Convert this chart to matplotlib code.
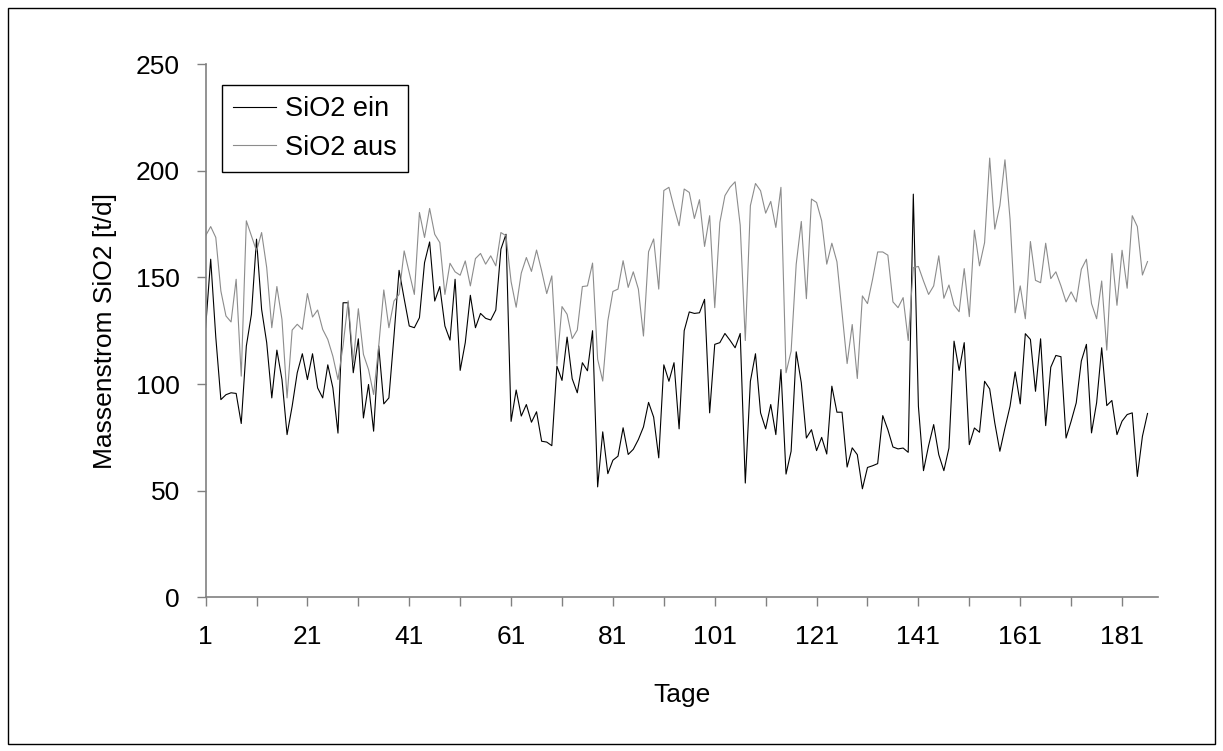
import numpy as np
import matplotlib.pyplot as plt
from matplotlib.patches import Rectangle

plt.rcParams['font.family'] = ['Liberation Sans', 'DejaVu Sans']

# Tageswerte Massenstrom SiO2 [t/d]
sio2_ein = [
    126.4, 158.5, 122.0, 92.7, 95.0, 95.9, 95.6, 81.5, 117.8, 132.7,
    167.9, 135.0, 119.4, 93.5, 115.9, 102.1, 76.3, 89.6, 105.3, 114.2,
    102.1, 114.2, 98.2, 93.5, 109.0, 98.2, 77.0, 138.1, 138.1, 105.3,
    121.2, 84.1, 99.8, 77.9, 117.8, 90.7, 93.5, 122.5, 153.3, 140.0,
    127.2, 126.4, 131.1, 156.9, 166.6, 138.9, 145.7, 127.2, 120.6, 149.1,
    106.4, 119.4, 141.6, 126.4, 133.1, 130.8, 130.0, 134.7, 163.2, 170.2,
    82.5, 97.2, 85.0, 90.4, 82.1, 87.0, 73.2, 72.8, 71.1, 108.4,
    101.7, 122.0, 102.5, 95.9, 110.0, 106.2, 125.0, 51.8, 77.6, 58.0,
    64.3, 66.2, 79.5, 67.0, 69.4, 74.0, 79.9, 91.4, 84.5, 65.4,
    109.0, 101.3, 110.0, 79.0, 125.0, 133.8, 133.1, 133.4, 139.7, 86.5,
    118.6, 119.4, 123.7, 120.5, 117.0, 123.7, 53.6, 101.3, 114.2, 86.5,
    79.0, 90.4, 76.3, 106.8, 57.8, 68.5, 115.1, 100.6, 74.7, 78.6,
    68.8, 75.0, 67.2, 99.0, 86.8, 86.8, 61.1, 70.1, 66.9, 50.9,
    60.9, 61.7, 62.7, 85.2, 78.6, 70.5, 69.6, 70.0, 68.0, 189.0,
    89.6, 59.4, 71.1, 81.0, 66.9, 59.4, 70.0, 120.1, 106.4, 119.4,
    71.6, 79.4, 77.4, 101.3, 97.7, 81.8, 68.5, 79.4, 89.6, 105.7,
    90.7, 123.6, 120.9, 96.6, 121.2, 80.5, 107.9, 113.4, 112.8, 74.7,
    82.6, 91.2, 110.8, 118.6, 77.1, 91.2, 117.0, 89.9, 92.3, 76.3,
    82.6, 85.7, 86.5, 56.7, 75.5, 86.2,
]
sio2_aus = [
    169.5, 173.8, 168.7, 143.6, 131.9, 129.1, 149.1, 103.7, 176.5, 169.5,
    162.4, 171.0, 154.6, 126.4, 145.7, 130.3, 93.5, 125.3, 128.0, 125.6,
    142.4, 131.4, 134.7, 125.6, 120.9, 113.0, 102.1, 118.0, 139.0, 110.0,
    135.3, 113.9, 106.8, 95.1, 117.8, 144.1, 126.4, 138.9, 142.0, 162.4,
    152.2, 142.0, 180.4, 168.7, 182.3, 170.2, 166.3, 142.0, 156.6, 152.6,
    151.0, 157.7, 146.0, 158.8, 161.2, 156.2, 160.1, 155.4, 171.0, 169.5,
    148.0, 136.0, 152.0, 159.3, 152.8, 162.8, 153.1, 142.4, 150.7, 109.2,
    136.3, 132.7, 121.3, 125.3, 145.7, 146.0, 156.7, 111.6, 101.4, 129.6,
    143.4, 144.5, 157.8, 145.3, 152.6, 144.5, 122.5, 162.0, 168.0, 144.5,
    190.7, 192.2, 182.8, 174.2, 191.4, 189.8, 177.6, 186.4, 164.5, 178.9,
    135.8, 175.7, 188.3, 192.2, 194.8, 174.5, 120.4, 183.6, 194.0, 190.6,
    180.1, 185.6, 173.4, 192.2, 105.3, 115.4, 156.2, 176.2, 140.0, 186.7,
    185.1, 176.5, 156.2, 166.0, 157.3, 133.4, 109.6, 127.9, 102.6, 141.3,
    137.7, 149.1, 161.9, 161.9, 160.4, 138.5, 135.8, 140.5, 120.4, 154.6,
    155.1, 148.3, 142.0, 146.0, 160.1, 140.2, 146.4, 137.0, 133.9, 154.1,
    131.6, 172.1, 155.4, 166.3, 205.9, 172.6, 183.6, 205.1, 177.3, 133.4,
    146.0, 130.6, 166.8, 148.6, 147.5, 166.0, 149.4, 152.6, 146.0, 138.5,
    143.2, 138.5, 153.8, 158.5, 137.7, 130.6, 148.3, 115.9, 161.2, 136.9,
    162.7, 144.9, 178.9, 173.8, 151.1, 157.4,
]
tage = np.arange(1, len(sio2_ein) + 1)

x_ticks = np.arange(1, 182, 10)
x_ticklabels = [str(t) if (t - 1) % 20 == 0 else "" for t in x_ticks]
y_ticks = [0, 50, 100, 150, 200, 250]

FS = 19
W, H = 1223, 751
fig = plt.figure(figsize=(W / 100, H / 100), dpi=100)

# Achsenfläche in Pixeln: links 205.6, rechts 1157.7, oben 64, unten 597.4
l, r, t, b = 205.6, 1157.7, 64.0, 597.4
ax = fig.add_axes([l / W, 1 - b / H, (r - l) / W, (b - t) / H])

ax.plot(tage, sio2_ein, color="black", lw=0.8, label="SiO2 ein")
ax.plot(tage, sio2_aus, color="#8c8c8c", lw=0.8, label="SiO2 aus")

ax.set_xlim(1, 188)
ax.set_ylim(0, 250)
ax.set_xticks(x_ticks)
ax.set_xticklabels(x_ticklabels)
ax.set_yticks(y_ticks)

for s in ["top", "right"]:
    ax.spines[s].set_visible(False)
for s in ["left", "bottom"]:
    ax.spines[s].set_color("#808080")
    ax.spines[s].set_linewidth(1.2)

ax.tick_params(axis="both", direction="out", length=6.5, width=1.0,
               color="#808080", labelsize=FS)
ax.tick_params(axis="y", pad=12)
ax.tick_params(axis="x", pad=13.5)

ax.set_ylabel("Massenstrom SiO2 [t/d]", fontsize=FS, va="center")
ax.yaxis.set_label_coords((105 - l) / (r - l), 0.5)
ax.set_xlabel("Tage", fontsize=FS, va="center")
ax.xaxis.set_label_coords(0.5, (b - 695) / (b - t))

leg = ax.legend(loc="upper left", bbox_to_anchor=(221.7 / W, 1 - 85 / H),
                bbox_transform=fig.transFigure, borderaxespad=0,
                fontsize=19.5, frameon=True, fancybox=False, framealpha=1,
                edgecolor="black", handlelength=1.6, handletextpad=0.33,
                borderpad=0.42, labelspacing=0.45)
leg.get_frame().set_linewidth(1.0)

# Rahmen um das gesamte Diagramm
fig.patches.append(Rectangle((8 / W, 1 - 744 / H), 1207 / W, 736 / H,
                             transform=fig.transFigure, fill=False,
                             edgecolor="black", lw=1.0))

fig.savefig("out.png", dpi=100)
